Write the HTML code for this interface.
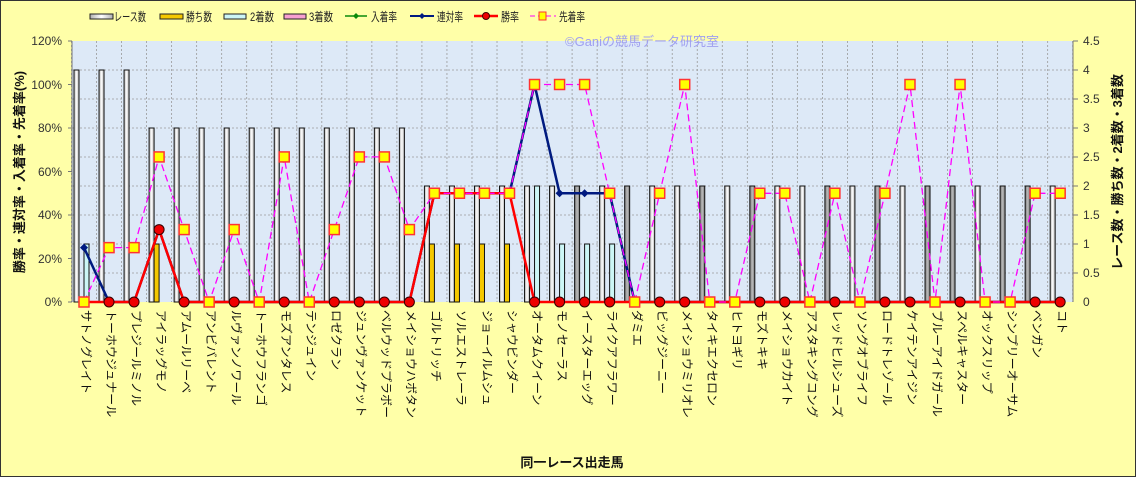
<!DOCTYPE html>
<html><head><meta charset="utf-8">
<style>
html,body{margin:0;padding:0;background:#ffffa8;}
svg{display:block;font-family:"Liberation Sans","Noto Sans CJK JP",sans-serif;}
</style></head>
<body>
<svg id="c" width="1136" height="477" viewBox="0 0 1136 477" xmlns="http://www.w3.org/2000/svg">
<defs>
<linearGradient id="wg" x1="0" x2="1" y1="0" y2="0"><stop offset="0" stop-color="#b0b0b0"/><stop offset="0.5" stop-color="#ffffff"/><stop offset="1" stop-color="#b0b0b0"/></linearGradient>
<linearGradient id="gg" x1="0" x2="1" y1="0" y2="0"><stop offset="0" stop-color="#777"/><stop offset="0.5" stop-color="#bbb"/><stop offset="1" stop-color="#777"/></linearGradient>
</defs>
<rect x="0.5" y="0.5" width="1135" height="476" fill="#ffffa8" stroke="#333" stroke-width="1"/>
<rect x="72" y="41" width="1001" height="261" fill="#dde9f7"/>
<g id="grid"></g>
<g id="bars"></g>
<g id="lines"></g>
<line x1="72" y1="41" x2="72" y2="302" stroke="#777"/>
<line x1="1073" y1="41" x2="1073" y2="302" stroke="#777"/>
<g font-size="12" fill="#333" text-anchor="end">
<text x="62" y="306">0%</text><text x="62" y="263">20%</text><text x="62" y="219">40%</text><text x="62" y="176">60%</text><text x="62" y="132">80%</text><text x="62" y="89">100%</text><text x="62" y="45">120%</text>
</g>
<g font-size="12" fill="#333">
<text x="1083" y="306">0</text><text x="1083" y="277">0.5</text><text x="1083" y="248">1</text><text x="1083" y="219">1.5</text><text x="1083" y="190">2</text><text x="1083" y="161">2.5</text><text x="1083" y="132">3</text><text x="1083" y="103">3.5</text><text x="1083" y="74">4</text><text x="1083" y="45">4.5</text>
</g>
<text x="565" y="46" font-size="13" fill="#a0a0f0">©Ganiの競馬データ研究室</text>
<text transform="translate(24,172) rotate(-90)" text-anchor="middle" font-size="13" font-weight="bold" fill="#111">勝率・連対率・入着率・先着率(%)</text>
<text transform="translate(1122,172) rotate(-90)" text-anchor="middle" font-size="13" font-weight="bold" fill="#111">レース数・勝ち数・2着数・3着数</text>
<text x="572" y="467" text-anchor="middle" font-size="13" font-weight="bold" fill="#111">同一レース出走馬</text>
<g font-size="12" fill="#222">
<rect x="90" y="14" width="23" height="5" fill="url(#wg)" stroke="#222"/><text x="114" y="21" textLength="32" lengthAdjust="spacingAndGlyphs">レース数</text>
<rect x="160" y="14" width="23" height="5" fill="#f5c800" stroke="#222"/><text x="186" y="21" textLength="26" lengthAdjust="spacingAndGlyphs">勝ち数</text>
<rect x="224" y="14" width="22" height="5" fill="#ccf6f6" stroke="#222"/><text x="250" y="21" textLength="24" lengthAdjust="spacingAndGlyphs">2着数</text>
<rect x="284" y="14" width="22" height="5" fill="#f8a0d0" stroke="#222"/><text x="309" y="21" textLength="24" lengthAdjust="spacingAndGlyphs">3着数</text>
<line x1="345" y1="16" x2="367" y2="16" stroke="#0a8a0a" stroke-width="1.5"/><path d="M356,13 l3,3 l-3,3 l-3,-3z" fill="#0a8a0a"/><text x="371" y="21" textLength="26" lengthAdjust="spacingAndGlyphs">入着率</text>
<line x1="410" y1="16" x2="434" y2="16" stroke="#001a80" stroke-width="2"/><path d="M422,13 l3,3 l-3,3 l-3,-3z" fill="#001a80"/><text x="437" y="21" textLength="26" lengthAdjust="spacingAndGlyphs">連対率</text>
<line x1="474" y1="16" x2="498" y2="16" stroke="#f00" stroke-width="2.5"/><circle cx="486" cy="16" r="3.5" fill="#e00" stroke="#400"/><text x="501" y="21" textLength="18" lengthAdjust="spacingAndGlyphs">勝率</text>
<line x1="530" y1="16" x2="556" y2="16" stroke="#f0f" stroke-width="1" stroke-dasharray="5,3"/><rect x="539" y="12" width="7" height="8" fill="#ff0" stroke="#f33"/><text x="559" y="21" textLength="26" lengthAdjust="spacingAndGlyphs">先着率</text>
</g>
<g font-size="12" fill="#111" id="labels">
<text transform="translate(86,310) rotate(90)" dominant-baseline="central">サトノグレイト</text>
<text transform="translate(111,310) rotate(90)" dominant-baseline="central">トーホウジュナール</text>
<text transform="translate(136,310) rotate(90)" dominant-baseline="central">プレジールミノル</text>
<text transform="translate(161,310) rotate(90)" dominant-baseline="central">アイラッグモノ</text>
<text transform="translate(186,310) rotate(90)" dominant-baseline="central">アムールリーベ</text>
<text transform="translate(211,310) rotate(90)" dominant-baseline="central">アンビバレント</text>
<text transform="translate(236,310) rotate(90)" dominant-baseline="central">ルヴァンノワール</text>
<text transform="translate(261,310) rotate(90)" dominant-baseline="central">トーホウフランゴ</text>
<text transform="translate(286,310) rotate(90)" dominant-baseline="central">モズアンタレス</text>
<text transform="translate(311,310) rotate(90)" dominant-baseline="central">テンジュイン</text>
<text transform="translate(336,310) rotate(90)" dominant-baseline="central">ロゼクラン</text>
<text transform="translate(361,310) rotate(90)" dominant-baseline="central">ジュンヴァンケット</text>
<text transform="translate(386,310) rotate(90)" dominant-baseline="central">ベルウッドプラボー</text>
<text transform="translate(411,310) rotate(90)" dominant-baseline="central">メイショウハボタン</text>
<text transform="translate(436,310) rotate(90)" dominant-baseline="central">ゴルトリッチ</text>
<text transform="translate(461,310) rotate(90)" dominant-baseline="central">ソルエストレーラ</text>
<text transform="translate(487,310) rotate(90)" dominant-baseline="central">ジョーイルムシュ</text>
<text transform="translate(512,310) rotate(90)" dominant-baseline="central">シャウビンダー</text>
<text transform="translate(537,310) rotate(90)" dominant-baseline="central">オータムクイーン</text>
<text transform="translate(562,310) rotate(90)" dominant-baseline="central">モノセーラス</text>
<text transform="translate(587,310) rotate(90)" dominant-baseline="central">イースターエッグ</text>
<text transform="translate(612,310) rotate(90)" dominant-baseline="central">ライクアフラワー</text>
<text transform="translate(637,310) rotate(90)" dominant-baseline="central">ダミエ</text>
<text transform="translate(662,310) rotate(90)" dominant-baseline="central">ビッグジーニー</text>
<text transform="translate(687,310) rotate(90)" dominant-baseline="central">メイショウミリオレ</text>
<text transform="translate(712,310) rotate(90)" dominant-baseline="central">タイキエクセロン</text>
<text transform="translate(737,310) rotate(90)" dominant-baseline="central">ヒトヨギリ</text>
<text transform="translate(762,310) rotate(90)" dominant-baseline="central">モズトキキ</text>
<text transform="translate(787,310) rotate(90)" dominant-baseline="central">メイショウカイト</text>
<text transform="translate(812,310) rotate(90)" dominant-baseline="central">アスタキングコング</text>
<text transform="translate(837,310) rotate(90)" dominant-baseline="central">レッドヒルシューズ</text>
<text transform="translate(862,310) rotate(90)" dominant-baseline="central">ソングオブライフ</text>
<text transform="translate(887,310) rotate(90)" dominant-baseline="central">ロードトレゾール</text>
<text transform="translate(912,310) rotate(90)" dominant-baseline="central">ケイテンアイジン</text>
<text transform="translate(937,310) rotate(90)" dominant-baseline="central">ブルーアイドガール</text>
<text transform="translate(962,310) rotate(90)" dominant-baseline="central">スペルキャスター</text>
<text transform="translate(987,310) rotate(90)" dominant-baseline="central">オックスリップ</text>
<text transform="translate(1012,310) rotate(90)" dominant-baseline="central">シンプリーオーサム</text>
<text transform="translate(1037,310) rotate(90)" dominant-baseline="central">ベンガン</text>
<text transform="translate(1062,310) rotate(90)" dominant-baseline="central">コト</text>
</g>
</svg>
<script>
(function(){
var NS="http://www.w3.org/2000/svg";
function el(p,t,a){var e=document.createElementNS(NS,t);for(var k in a)e.setAttribute(k,a[k]);p.appendChild(e);return e;}
var grid=document.getElementById('grid'),bars=document.getElementById('bars'),lines=document.getElementById('lines');
var X=function(i){return 84+25.03*i;};
var Yp=function(p){return 302-p*261/120;};
var Yc=function(c){return 302-c*58;};
for(var g=1;g<9;g++){var y=302-g*29;el(grid,'line',{x1:72,x2:1073,y1:y,y2:y,stroke:'#999','stroke-dasharray':'2,2','stroke-width':0.8});
 el(grid,'line',{x1:1073,x2:1078,y1:y,y2:y,stroke:'#777'});}
el(grid,'line',{x1:1073,x2:1078,y1:41,y2:41,stroke:'#777'});
for(var i=0;i<=40;i++){var x=71.5+25.03*i;el(grid,'line',{x1:x,x2:x,y1:41,y2:302,stroke:'#999','stroke-dasharray':'2,2','stroke-width':0.8});}
for(var g=0;g<=6;g++){var y=302-g*43.5;el(grid,'line',{x1:68,x2:72,y1:y,y2:y,stroke:'#777'});}
var race=[4,4,4,3,3,3,3,3,3,3,3,3,3,3,2,2,2,2,2,2,2,2,2,2,2,2,2,2,2,2,2,2,2,2,2,2,2,2,2,2];
var win=[];var sec=[];for(i=0;i<40;i++){win.push(0);sec.push(0);}
win[3]=1;win[14]=1;win[15]=1;win[16]=1;win[17]=1;
sec[0]=1;sec[18]=2;sec[19]=1;sec[20]=1;sec[21]=1;
var grey={20:1,22:1,25:1,27:1,30:1,32:1,34:1,35:1,37:1,38:1};
var wr=[];var rt=[];for(i=0;i<40;i++){wr.push(0);rt.push(0);}
wr[3]=33.3;wr[14]=50;wr[15]=50;wr[16]=50;wr[17]=50;
rt[0]=25;rt[3]=33.3;rt[14]=50;rt[15]=50;rt[16]=50;rt[17]=50;rt[18]=100;rt[19]=50;rt[20]=50;rt[21]=50;
var sn=[0,25,25,66.7,33.3,0,33.3,0,66.7,0,33.3,66.7,66.7,33.3,50,50,50,50,100,100,100,50,0,50,100,0,0,50,50,0,50,0,50,100,0,100,0,0,50,50];
for(i=0;i<40;i++){var c=X(i);
 el(bars,'rect',{x:c-10,y:Yc(race[i]),width:5,height:302-Yc(race[i]),fill:grey[i]?'url(#gg)':'url(#wg)',stroke:'#111','stroke-width':1});
 if(win[i])el(bars,'rect',{x:c-5,y:Yc(win[i]),width:5,height:302-Yc(win[i]),fill:'#f5c800',stroke:'#111','stroke-width':1});
 if(sec[i])el(bars,'rect',{x:c,y:Yc(sec[i]),width:5,height:302-Yc(sec[i]),fill:'#ccf6f6',stroke:'#111','stroke-width':1});
}
function pts(a){return a.map(function(v,i){return X(i).toFixed(1)+','+Yp(v).toFixed(1);}).join(' ');}
el(lines,'polyline',{points:pts(rt),fill:'none',stroke:'#0a8a0a','stroke-width':2});
el(lines,'polyline',{points:pts(rt),fill:'none',stroke:'#001a80','stroke-width':2.5});
for(i=0;i<40;i++){if(rt[i]>0){var x=X(i),y=Yp(rt[i]);el(lines,'path',{d:'M'+x+','+(y-4)+' l4,4 l-4,4 l-4,-4z',fill:'#001a80'});}}
el(lines,'polyline',{points:pts(wr),fill:'none',stroke:'#f00','stroke-width':2.5});
for(i=0;i<40;i++){el(lines,'circle',{cx:X(i),cy:Yp(wr[i]),r:5,fill:'#e00',stroke:'#300','stroke-width':1});}
el(lines,'polyline',{points:pts(sn),fill:'none',stroke:'#f0f','stroke-width':1.3,'stroke-dasharray':'7,4'});
for(i=0;i<40;i++){el(lines,'rect',{x:X(i)-5,y:Yp(sn[i])-5,width:10,height:10,fill:'#ff0',stroke:'#f33','stroke-width':1.5});}
})();
</script>
</body></html>
